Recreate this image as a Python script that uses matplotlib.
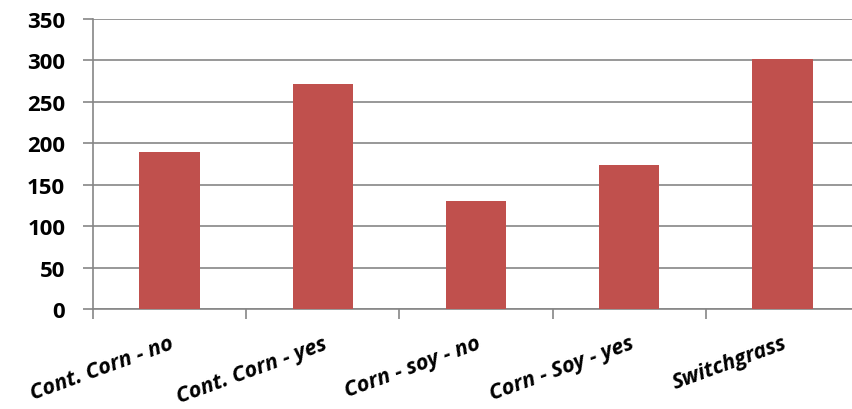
import matplotlib
matplotlib.use("Agg")
import matplotlib.pyplot as plt
import numpy as np

categories = ["Cont. Corn - no", "Cont. Corn - yes", "Corn - soy - no", "Corn - Soy - yes", "Switchgrass"]
values = [189, 272, 130, 174, 302]
yticks = [0, 50, 100, 150, 200, 250, 300, 350]

plt.rcParams['font.family'] = ['Open Sans', 'DejaVu Sans']

fig = plt.figure(figsize=(8.52, 4.10), dpi=100)
ax = fig.add_axes([93/852, 1 - 310/410, 766/852, 290/410])

x = np.arange(len(categories))
ax.bar(x, values, width=0.395, color="#C0504D", zorder=3)

ax.set_xlim(-0.5, len(categories) - 0.5)
ax.set_ylim(0, 350)
ax.set_yticks(yticks)
ax.set_yticklabels([str(v) for v in yticks], fontsize=16, fontweight='bold')
ax.yaxis.grid(True, color="#868686", linewidth=1.2, zorder=0)

ax.set_xticks(x)
ax.set_xticklabels(categories, fontsize=15.5, fontweight='bold', style='italic',
                   rotation=20, ha='right', rotation_mode='anchor')
ax.tick_params(axis='x', length=0, pad=17)
ax.set_xticks(np.arange(-0.5, len(categories)), minor=True)
ax.tick_params(axis='x', which='minor', length=7, color="#868686", width=1.2)
ax.tick_params(axis='y', length=7, color="#868686", width=1.2, pad=13)

for s in ["top", "right"]:
    ax.spines[s].set_visible(False)
for s in ["left", "bottom"]:
    ax.spines[s].set_color("#868686")
    ax.spines[s].set_linewidth(1.2)

fig.savefig("out.png", dpi=100)
